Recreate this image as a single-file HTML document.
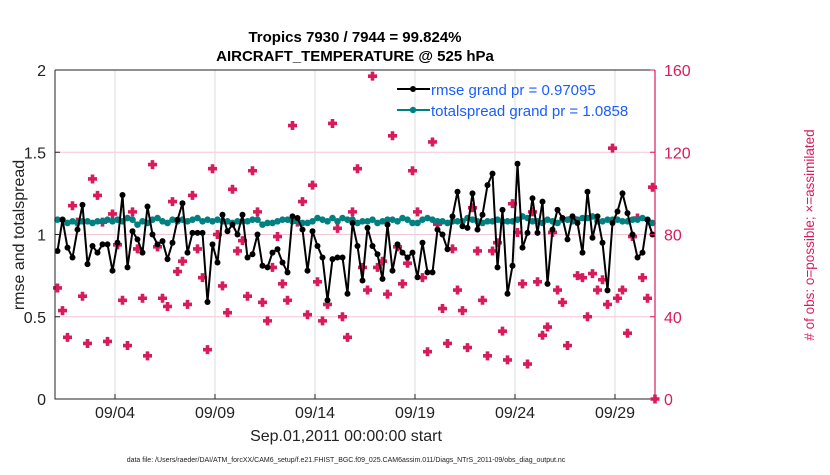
<!DOCTYPE html>
<html><head><meta charset="utf-8"><style>
body{margin:0;background:#fff;width:830px;height:470px;overflow:hidden;font-family:"Liberation Sans",sans-serif}
</style></head><body>
<svg id="chart" width="830" height="470" xmlns="http://www.w3.org/2000/svg" font-family="Liberation Sans, sans-serif"></svg>
<script>
const dayLabels=["09/04","09/09","09/14","09/19","09/24","09/29"];
const dayTicks=[3,8,13,18,23,28];
const leftTicks=[0,0.5,1,1.5,2];
const rightTicks=[0,40,80,120,160];
const rmse=[0.90,1.09,0.92,0.86,1.03,1.18,0.82,0.93,0.89,0.94,0.94,0.78,0.95,1.24,0.80,1.02,0.97,0.89,1.17,1.00,0.94,0.96,0.85,0.95,1.09,1.19,0.89,1.01,1.01,1.01,
0.59,0.94,0.83,1.12,1.02,1.06,1.00,1.12,0.86,0.88,1.00,0.81,0.80,0.89,0.91,0.83,0.77,1.11,1.10,1.03,0.78,1.02,0.93,0.86,0.60,0.85,0.86,0.86,0.64,1.07,
0.93,0.72,1.04,0.93,0.88,0.73,1.06,0.78,0.94,0.89,0.86,0.89,0.74,0.95,0.77,0.77,1.03,1.00,0.91,1.11,1.26,1.05,1.04,1.25,1.03,1.12,1.30,1.37,0.80,1.15,
0.64,0.81,1.43,0.92,1.01,1.22,1.01,1.20,0.70,1.03,1.15,1.10,0.97,1.11,1.07,0.89,1.26,0.98,1.11,0.95,0.66,1.07,1.14,1.25,1.13,1.00,0.86,0.89,1.09,1.00];
const spread=[1.09,1.09,1.07,1.08,1.07,1.08,1.08,1.07,1.08,1.08,1.09,1.08,1.09,1.08,1.10,1.09,1.06,1.08,1.07,1.09,1.10,1.08,1.07,1.09,1.08,1.09,1.08,1.09,1.10,1.08,
1.09,1.08,1.09,1.08,1.08,1.07,1.08,1.08,1.08,1.09,1.09,1.06,1.07,1.07,1.08,1.09,1.09,1.08,1.08,1.07,1.07,1.08,1.10,1.09,1.08,1.10,1.08,1.10,1.09,1.09,
1.07,1.08,1.08,1.09,1.07,1.08,1.09,1.09,1.08,1.10,1.09,1.07,1.07,1.09,1.10,1.09,1.08,1.08,1.07,1.08,1.08,1.08,1.10,1.09,1.08,1.07,1.08,1.08,1.09,1.08,
1.08,1.08,1.09,1.11,1.10,1.08,1.08,1.07,1.09,1.08,1.07,1.09,1.09,1.08,1.09,1.10,1.10,1.11,1.08,1.08,1.09,1.09,1.09,1.08,1.08,1.09,1.09,1.10,1.09,1.07];
const obsCount=[54,43,30,94,86,50,27,107,99,86,28,90,75,48,26,91,73,49,21,114,74,49,45,96,62,67,46,99,73,59,
24,112,80,55,42,102,72,77,50,111,91,47,38,64,79,56,48,133,86,96,41,104,57,38,46,134,83,40,30,91,
112,64,53,157,64,67,51,128,74,56,66,111,91,59,23,125,85,44,27,73,53,43,25,93,72,48,21,72,76,33,
19,95,81,56,17,91,57,31,35,81,53,47,26,88,60,59,40,61,53,58,46,122,49,53,32,79,88,59,49,103];
const X0=55,X1=655,Y0=399,Y1=70,DAYS=30;
const xs=i=>X0+(i+0.5)/rmse.length*(X1-X0);
const xd=d=>X0+d/DAYS*(X1-X0);
const yl=v=>Y0-v/2*(Y0-Y1);
const yr=v=>Y0-v/160*(Y0-Y1);
const svg=document.getElementById('chart');
const NS='http://www.w3.org/2000/svg';
function mk(t,a,p){const e=document.createElementNS(NS,t);for(const k in a)e.setAttribute(k,a[k]);(p||svg).appendChild(e);return e;}
const PINK='#d81b5c',TEAL='#008080';
leftTicks.forEach(v=>{if(v>0&&v<2){const g=mk('line',{x1:X0,x2:X1,y1:yl(v),y2:yl(v),stroke:'#f3c6d6','stroke-width':1});

}});
dayTicks.forEach(d=>{const g=mk('line',{x1:xd(d),x2:xd(d),y1:Y1,y2:Y0,stroke:'#ddd','stroke-width':1});

});
obsCount.forEach((c,i)=>{const x=xs(i),y=yr(c);
const m=mk('path',{d:`M${x-1.8},${y-4.5}h3.6v2.7h2.7v3.6h-2.7v2.7h-3.6v-2.7h-2.7v-3.6h2.7z`,fill:PINK});

});
const sp=mk('polyline',{points:spread.map((v,i)=>xs(i)+','+yl(v)).join(' '),fill:'none',stroke:TEAL,'stroke-width':2});


spread.forEach((v,i)=>{const c=mk('circle',{cx:xs(i),cy:yl(v),r:3.3,fill:TEAL});

});
const rl=mk('polyline',{points:rmse.map((v,i)=>xs(i)+','+yl(v)).join(' '),fill:'none',stroke:'#000','stroke-width':2});


rmse.forEach((v,i)=>{const c=mk('circle',{cx:xs(i),cy:yl(v),r:3,fill:'#000'});

});
const f1=mk('path',{d:`M${X0},${Y1}H${X1}M${X0},${Y1}V${Y0}H${X1}`,stroke:'#222',fill:'none','stroke-width':1});


const f2=mk('line',{x1:X1,x2:X1,y1:Y1,y2:Y0,stroke:PINK,'stroke-width':1.2});


const last=mk('path',{d:`M${X1-1.8},${Y0-4.5}h3.6v2.7h2.7v3.6h-2.7v2.7h-3.6v-2.7h-2.7v-3.6h2.7z`,fill:PINK});


leftTicks.forEach(v=>{mk('line',{x1:X0,x2:X0+5,y1:yl(v),y2:yl(v),stroke:'#222'});const t=mk('text',{x:X0-9,y:yl(v)+6,'text-anchor':'end','font-size':'16',fill:'#222'});t.textContent=String(v);

});
rightTicks.forEach(v=>{mk('line',{x1:X1-5,x2:X1,y1:yr(v),y2:yr(v),stroke:PINK});const t=mk('text',{x:X1+9,y:yr(v)+6,'font-size':'16',fill:PINK});t.textContent=String(v);

});
dayTicks.forEach((d,i)=>{mk('line',{x1:xd(d),x2:xd(d),y1:Y0,y2:Y0-5,stroke:'#222'});const t=mk('text',{x:xd(d),y:418,'text-anchor':'middle','font-size':'16',fill:'#222'});t.textContent=dayLabels[i];

});
function txt(s,a,name){const t=mk('text',a);t.textContent=s;return t;}
txt('Tropics 7930 / 7944 = 99.824%',{x:355,y:42,'text-anchor':'middle','font-size':'15','font-weight':'bold',fill:'#000'},'chart-title');
txt('AIRCRAFT_TEMPERATURE @ 525 hPa',{x:355,y:61,'text-anchor':'middle','font-size':'15','font-weight':'bold',fill:'#000'},'chart-subtitle');
txt('rmse and totalspread',{x:0,y:0,transform:'translate(24,235) rotate(-90)','text-anchor':'middle','font-size':'16',fill:'#222'},'y-axis-title');
txt('# of obs: o=possible; \u00d7=assimilated',{x:0,y:0,transform:'translate(814,235) rotate(-90)','text-anchor':'middle','font-size':'13.5',fill:PINK},'right-axis-title');
txt('Sep.01,2011 00:00:00 start',{x:346,y:441,'text-anchor':'middle','font-size':'16',fill:'#222'},'x-axis-title');
txt('data file: /Users/raeder/DAI/ATM_forcXX/CAM6_setup/f.e21.FHIST_BGC.f09_025.CAM6assim.011/Diags_NTrS_2011-09/obs_diag_output.nc',{x:346,y:462,'text-anchor':'middle','font-size':'7',fill:'#222'},'footer-filename');
const lg=mk('g',{});
mk('line',{x1:397,x2:430,y1:89,y2:89,stroke:'#000','stroke-width':2},lg);mk('circle',{cx:413,cy:89,r:3,fill:'#000'},lg);
mk('line',{x1:397,x2:430,y1:110,y2:110,stroke:TEAL,'stroke-width':2},lg);mk('circle',{cx:413,cy:110,r:3.2,fill:TEAL},lg);
txt('rmse grand pr = 0.97095',{x:431,y:95,'font-size':'15',fill:'#1a5cff'},'legend-rmse');
txt('totalspread grand pr = 1.0858',{x:431,y:116,'font-size':'15',fill:'#1a5cff'},'legend-totalspread');
</script>
</body></html>
